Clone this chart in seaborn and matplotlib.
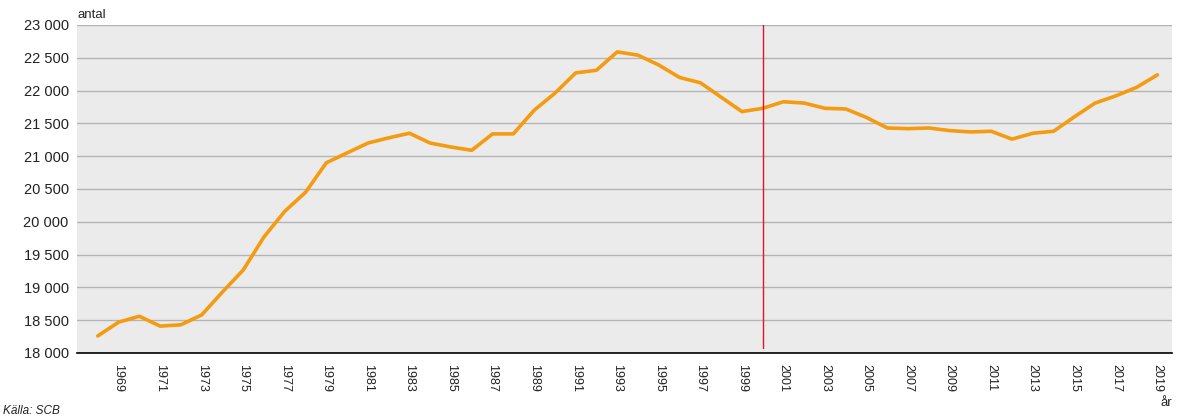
import numpy as np
import pandas as pd
import matplotlib
matplotlib.use("Agg")
import matplotlib.pyplot as plt
import matplotlib.ticker as mticker
import seaborn as sns

years = list(range(1968, 2020))
antal = [18260, 18470, 18560, 18410, 18430, 18580, 18930, 19265, 19770, 20160,
         20450, 20900, 21050, 21200, 21280, 21350, 21200, 21140, 21090, 21340,
         21340, 21700, 21960, 22270, 22310, 22590, 22540, 22390, 22200, 22120,
         21900, 21680, 21730, 21830, 21810, 21730, 21720, 21590, 21430, 21420,
         21430, 21390, 21370, 21380, 21260, 21350, 21380, 21600, 21810, 21920,
         22050, 22240]
tick_years = list(range(1969, 2020, 2))
marker_year = 2000

df = pd.DataFrame({"år": years, "antal": antal})

sns.set_style("whitegrid", {
    "axes.facecolor": "#ebebeb",
    "grid.color": "#b4b4b4",
    "axes.edgecolor": "black",
})
plt.rcParams['font.family'] = ['Liberation Sans', 'DejaVu Sans']

fig = plt.figure(figsize=(11.79, 4.19), dpi=100)
ax = fig.add_axes([77 / 1179, 66 / 419, 1095 / 1179, 328 / 419])

sns.lineplot(data=df, x="år", y="antal", color="#f49b10", linewidth=2.6, ax=ax)
ax.axvline(marker_year, color="#e8112d", linewidth=1.0, ymin=0.015, ymax=1.0)

ax.set_xlim(1967.0, 2019.7)
ax.set_ylim(18000, 23000)
ax.set_yticks(np.arange(18000, 23001, 500))
ax.yaxis.set_major_formatter(mticker.FuncFormatter(lambda v, p: f"{int(v):,}".replace(",", " ")))
ax.set_xticks(tick_years)
ax.set_xticklabels([str(y) for y in tick_years], rotation=-90, fontsize=9, color="#222222")
ax.tick_params(axis="y", labelsize=10.5, colors="#222222", length=0, pad=6)
ax.tick_params(axis="x", length=0, pad=8)
ax.grid(axis="x", visible=False)
ax.grid(axis="y", linewidth=1.0)
for s in ["top", "right", "left"]:
    ax.spines[s].set_visible(False)
ax.spines["bottom"].set_linewidth(1.2)
ax.set_xlabel("")
ax.set_ylabel("")

fig.text(78 / 1179, 1 - 15 / 419, "antal", fontsize=9.5, va="center", ha="left")
fig.text(1172 / 1179, 1 - 403 / 419, "år", fontsize=9.5, va="center", ha="right")
fig.text(3 / 1179, 1 - 411 / 419, "Källa: SCB", fontsize=8.5, style="italic", va="center", ha="left", color="#222222")

fig.savefig("out.png", dpi=100)
